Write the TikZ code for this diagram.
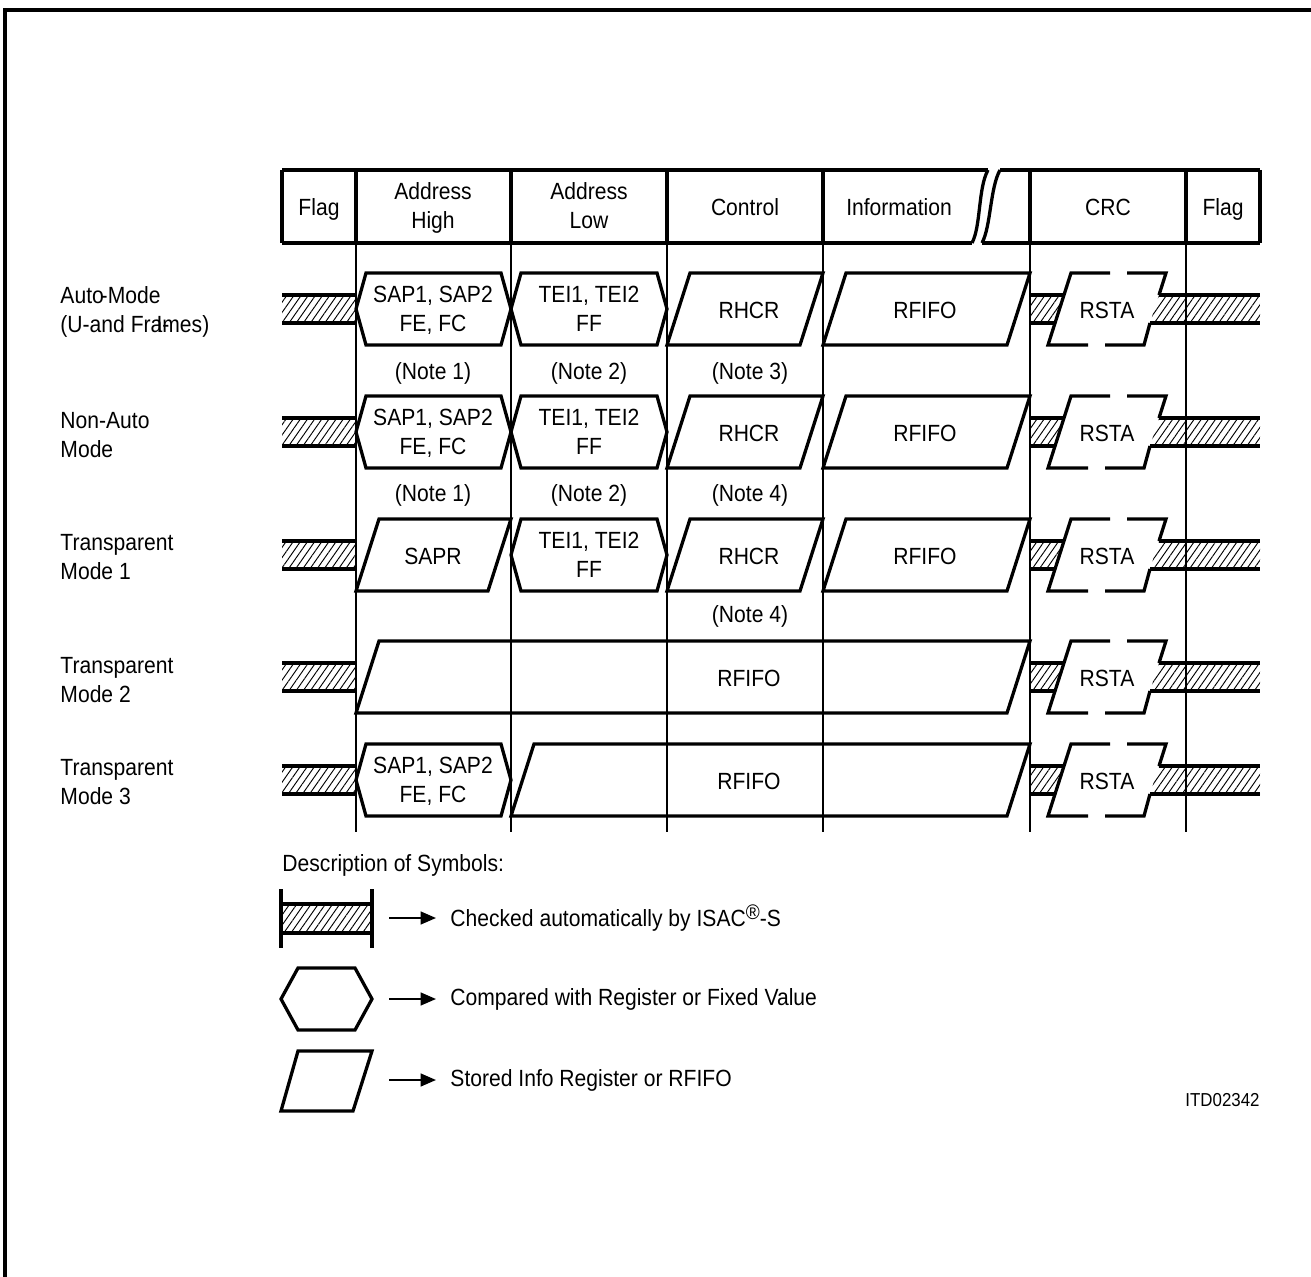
\documentclass[tikz,border=0pt]{standalone}
\usepackage{fontspec}
\setmainfont{Liberation Sans}[FakeStretch=0.9]
\usetikzlibrary{arrows.meta,patterns.meta}

\begin{document}
\begin{tikzpicture}[
  x=0.015cm, y=-0.015cm,
  font=\fontsize{10}{12.5}\selectfont,
  cell/.style={draw,line width=1.4pt,line join=miter},
  grid/.style={draw,line width=0.5pt},
  chk/.style={pattern={Lines[angle=55,distance=2.5pt,line width=0.4pt]}},
  txt/.style={align=center,inner sep=0pt,yshift=-1.3pt,
              execute at begin node=\strut,execute at end node=\strut},
  mode/.style={align=left,anchor=west,inner sep=0pt},
  note/.style={inner sep=0pt,yshift=-1.3pt,execute at begin node=\strut},
  tip/.style={line width=0.6pt,-{Triangle[length=6.5pt,width=5.5pt]},shorten >=6pt},
  chkbar/.pic={
    \fill[chk] (282,-14) rectangle (356,14);
    \draw[cell] (282,-14) -- (356,-14) (282,14) -- (356,14);
  },
  rsta/.pic={
    \fill[chk] (1030,-14) -- (1064,-14) -- (1055,14) -- (1030,14) -- cycle;
    \fill[chk] (1159,-14) -- (1260,-14) -- (1260,14) -- (1150,14) -- cycle;
    \draw[cell] (1030,-14) -- (1064,-14) (1030,14) -- (1055,14);
    \draw[cell] (1159,-14) -- (1260,-14) (1150,14) -- (1260,14);
    \draw[cell] (1159,-14) -- (1166,-36) -- (1127,-36);
    \draw[cell] (1110,-36) -- (1071,-36) -- (1048,36) -- (1088,36);
    \draw[cell] (1105,36) -- (1144,36) -- (1150,14);
    \node[txt] (-lbl) at (1107,1) {RSTA};
  },
]
\useasboundingbox (0,0) rectangle (1311,1277);

% --- page frame ---
\draw[line width=1.3pt] (1311,10) -- (5,10) -- (5,1277);

%% =====================================================
%%  FRAME HEADER
%% =====================================================
\draw[cell] (282,170) -- (988,170) (1000,170) -- (1260,170);
\draw[cell] (282,243) -- (972,243) (982,243) -- (1260,243);
\draw[cell] (282,170) -- (282,243) (356,170) -- (356,243)
            (511,170) -- (511,243) (667,170) -- (667,243)
            (823,170) -- (823,243) (1030,170) -- (1030,243)
            (1186,170) -- (1186,243) (1260,170) -- (1260,243);
% break in the information field
\draw[cell] (988,170) .. controls (978,188) and (981,226) .. (972,243);
\draw[cell] (1000,170) .. controls (990,188) and (991,226) .. (982,243);

\node[txt] (hflagl) at (319,207) {Flag};
\node[txt] (haddrh) at (433,207) {Address\\High};
\node[txt] (haddrl) at (589,207) {Address\\Low};
\node[txt] (hctrl)  at (745,207) {Control};
\node[txt] (hinfo)  at (899,207) {Information};
\node[txt] (hcrc)   at (1108,207) {CRC};
\node[txt] (hflagr) at (1223,207) {Flag};

% field boundaries
\draw[grid] (356,243) -- (356,832) (511,243) -- (511,832)
            (667,243) -- (667,832) (823,243) -- (823,832)
            (1030,243) -- (1030,832) (1186,243) -- (1186,832);

%% =====================================================
%%  RECEIVE MODES
%% =====================================================

% --- Auto mode ---
\node[mode] (m1) at (60,312) {Auto\,\llap{-}Mode\\(U-and Fra\llap{I}\rlap{-}mes)};
\pic at (0,309) {chkbar};
\draw[cell] (356,309) -- (366,273) -- (501,273) -- (511,309) -- (501,345) -- (366,345) -- cycle;
\node[txt] (r1sap) at (433,310) {SAP1, SAP2\\FE, FC};
\draw[cell] (511,309) -- (521,273) -- (657,273) -- (667,309) -- (657,345) -- (521,345) -- cycle;
\node[txt] (r1tei) at (589,310) {TEI1, TEI2\\FF};
\draw[cell] (667,345) -- (690,273) -- (823,273) -- (800,345) -- cycle;
\node[txt] (r1hcr) at (749,310) {RHCR};
\draw[cell] (823,345) -- (846,273) -- (1030,273) -- (1007,345) -- cycle;
\node[txt] (r1fifo) at (925,310) {RFIFO};
\pic (r1) at (0,309) {rsta};
\node[note] (n1a) at (433,371) {(Note 1)};
\node[note] (n1b) at (589,371) {(Note 2)};
\node[note] (n1c) at (750,371) {(Note 3)};

% --- Non-auto mode ---
\node[mode] (m2) at (60,435) {Non-Auto\\Mode};
\pic at (0,432) {chkbar};
\draw[cell] (356,432) -- (366,396) -- (501,396) -- (511,432) -- (501,468) -- (366,468) -- cycle;
\node[txt] (r2sap) at (433,433) {SAP1, SAP2\\FE, FC};
\draw[cell] (511,432) -- (521,396) -- (657,396) -- (667,432) -- (657,468) -- (521,468) -- cycle;
\node[txt] (r2tei) at (589,433) {TEI1, TEI2\\FF};
\draw[cell] (667,468) -- (690,396) -- (823,396) -- (800,468) -- cycle;
\node[txt] (r2hcr) at (749,433) {RHCR};
\draw[cell] (823,468) -- (846,396) -- (1030,396) -- (1007,468) -- cycle;
\node[txt] (r2fifo) at (925,433) {RFIFO};
\pic (r2) at (0,432) {rsta};
\node[note] (n2a) at (433,493) {(Note 1)};
\node[note] (n2b) at (589,493) {(Note 2)};
\node[note] (n2c) at (750,493) {(Note 4)};

% --- Transparent mode 1 ---
\node[mode] (m3) at (60,557) {Transparent\\Mode 1};
\pic at (0,555) {chkbar};
\draw[cell] (356,591) -- (379,519) -- (511,519) -- (488,591) -- cycle;
\node[txt] (r3sapr) at (433,556) {SAPR};
\draw[cell] (511,555) -- (521,519) -- (657,519) -- (667,555) -- (657,591) -- (521,591) -- cycle;
\node[txt] (r3tei) at (589,556) {TEI1, TEI2\\FF};
\draw[cell] (667,591) -- (690,519) -- (823,519) -- (800,591) -- cycle;
\node[txt] (r3hcr) at (749,556) {RHCR};
\draw[cell] (823,591) -- (846,519) -- (1030,519) -- (1007,591) -- cycle;
\node[txt] (r3fifo) at (925,556) {RFIFO};
\pic (r3) at (0,555) {rsta};
\node[note] (n3c) at (750,614) {(Note 4)};

% --- Transparent mode 2 ---
\node[mode] (m4) at (60,680) {Transparent\\Mode 2};
\pic at (0,677) {chkbar};
\draw[cell] (356,713) -- (379,641) -- (1030,641) -- (1007,713) -- cycle;
\node[txt] (r4fifo) at (749,678) {RFIFO};
\pic (r4) at (0,677) {rsta};

% --- Transparent mode 3 ---
\node[mode] (m5) at (60,782) {Transparent\\Mode 3};
\pic at (0,780) {chkbar};
\draw[cell] (356,780) -- (366,744) -- (501,744) -- (511,780) -- (501,816) -- (366,816) -- cycle;
\node[txt] (r5sap) at (433,781) {SAP1, SAP2\\FE, FC};
\draw[cell] (511,816) -- (534,744) -- (1030,744) -- (1007,816) -- cycle;
\node[txt] (r5fifo) at (749,781) {RFIFO};
\pic (r5) at (0,780) {rsta};

%% =====================================================
%%  LEGEND
%% =====================================================
\node[mode] (desc) at (282,865) {Description of Symbols:};

\fill[chk] (281,904) rectangle (372,933);
\draw[cell] (281,904) -- (372,904) (281,933) -- (372,933)
            (281,889) -- (281,948) (372,889) -- (372,948);
\coordinate (a1) at (389,918);
\node[mode] (lg1) at (450,918)
  {Checked automatically by ISAC\raisebox{.6ex}{\fontsize{9}{9}\selectfont\textregistered}-S};
\draw[tip] (a1) -- (a1 -| lg1.west);

\draw[cell] (281,999) -- (298,968) -- (355,968) -- (372,999) -- (355,1030) -- (298,1030) -- cycle;
\coordinate (a2) at (389,999);
\node[mode] (lg2) at (450,999) {Compared with Register or Fixed Value};
\draw[tip] (a2) -- (a2 -| lg2.west);

\draw[cell] (281,1111) -- (298,1051) -- (372,1051) -- (353,1111) -- cycle;
\coordinate (a3) at (389,1080);
\node[mode] (lg3) at (450,1080) {Stored Info Register or RFIFO};
\draw[tip] (a3) -- (a3 -| lg3.west);

\node[anchor=east,inner sep=0pt,font=\fontsize{8}{10}\selectfont] (itd) at (1260,1100) {ITD02342};

\end{tikzpicture}
\end{document}
